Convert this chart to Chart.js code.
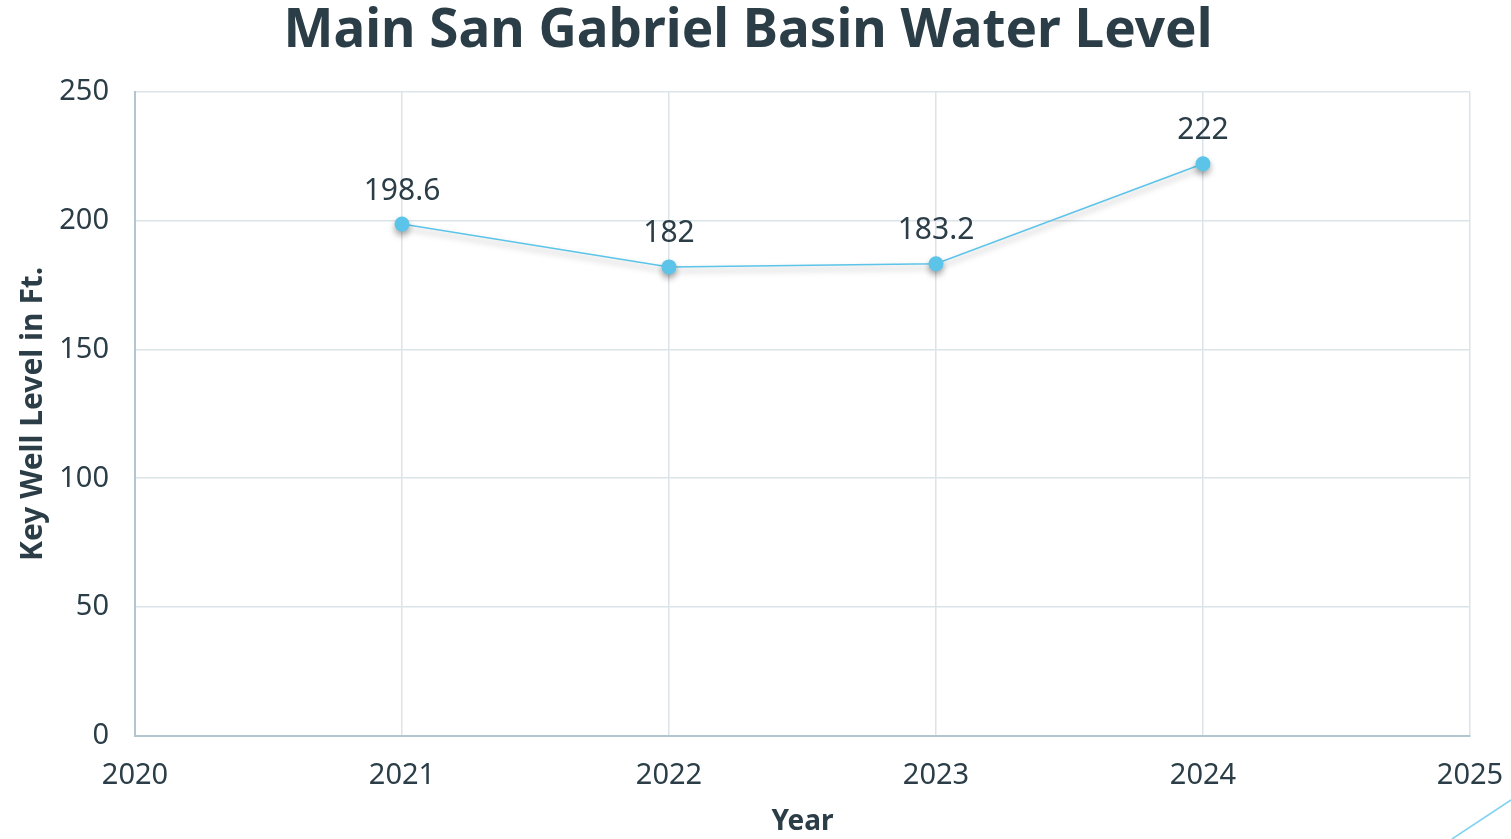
<!DOCTYPE html>
<html>
<head>
<meta charset="utf-8">
<script src="https://cdn.jsdelivr.net/npm/chart.js@4/dist/chart.umd.min.js"></script>
<style>
  html, body { margin: 0; padding: 0; background: #ffffff; overflow: hidden; }
  #chart { display: block; }
</style>
</head>
<body>
<canvas id="chart" width="1511" height="839"></canvas>
<script>
// data
const years = [2021, 2022, 2023, 2024];
const levels = [198.6, 182, 183.2, 222];
const yTicks = [0, 50, 100, 150, 200, 250];
const xTicks = [2020, 2021, 2022, 2023, 2024, 2025];

const textColor = '#2b3d47';
const lineColor = '#5bc4e8';
const fontFamily = '"Noto Sans", "Open Sans", sans-serif';

// soft shadow under the line and points
const shadowPlugin = {
  id: 'lineShadow',
  beforeDatasetDraw: (chart) => {
    const ctx = chart.ctx;
    ctx.save();
    ctx.shadowColor = 'rgba(0,0,0,0.35)';
    ctx.shadowBlur = 6;
    ctx.shadowOffsetX = 0;
    ctx.shadowOffsetY = 4;
  },
  afterDatasetDraw: (chart) => {
    chart.ctx.restore();
  }
};

// value labels above each point
const labelPlugin = {
  id: 'valueLabels',
  afterDatasetsDraw: (chart) => {
    const ctx = chart.ctx;
    const meta = chart.getDatasetMeta(0);
    ctx.save();
    ctx.font = '30px ' + fontFamily;
    ctx.fillStyle = textColor;
    ctx.textAlign = 'center';
    ctx.textBaseline = 'bottom';
    meta.data.forEach((pt, i) => {
      ctx.fillText(String(levels[i]), pt.x, pt.y - 18);
    });
    ctx.restore();
  }
};

// thin decorative stroke in the bottom-right corner
const cornerPlugin = {
  id: 'cornerStroke',
  afterDraw: (chart) => {
    const ctx = chart.ctx;
    ctx.save();
    ctx.strokeStyle = '#7fd3f0';
    ctx.lineWidth = 1.5;
    ctx.beginPath();
    ctx.moveTo(1452, 839);
    ctx.lineTo(1511, 800);
    ctx.stroke();
    ctx.restore();
  }
};

const data = {
  datasets: [{
    label: 'Key Well Level',
    data: years.map((y, i) => ({ x: y, y: levels[i] })),
    borderColor: lineColor,
    backgroundColor: lineColor,
    borderWidth: 1.5,
    pointRadius: 7.5,
    pointBorderWidth: 0,
    pointBackgroundColor: lineColor,
    tension: 0
  }]
};

const config = {
  type: 'line',
  data: data,
  options: {
    responsive: false,
    animation: false,
    layout: { padding: { top: 0, right: 41, bottom: 0, left: 26 } },
    plugins: {
      legend: { display: false },
      tooltip: { enabled: false },
      title: {
        display: true,
        text: 'Main San Gabriel Basin Water Level',
        color: textColor,
        font: { family: fontFamily, size: 53, weight: 'bold' },
        padding: { top: 0, bottom: 28 }
      }
    },
    scales: {
      x: {
        type: 'linear',
        min: xTicks[0],
        max: xTicks[xTicks.length - 1],
        afterBuildTicks: (axis) => { axis.ticks = xTicks.map(v => ({ value: v })); },
        afterFit: (axis) => {
          axis.height = 103;
          axis.paddingRight = 0; // let the 2025 label hang into the margin
        },
        ticks: {
          color: textColor,
          font: { family: fontFamily, size: 29 },
          padding: 22,
          maxRotation: 0,
          callback: (v) => String(v)
        },
        grid: { color: '#dbe4e8', lineWidth: 1.5, drawTicks: false },
        border: { color: '#b3c6d0', width: 2 },
        title: {
          display: true,
          text: 'Year',
          color: textColor,
          font: { family: fontFamily, size: 28, weight: 'bold' },
          padding: { top: 0, bottom: 0 }
        }
      },
      y: {
        min: yTicks[0],
        max: yTicks[yTicks.length - 1],
        afterBuildTicks: (axis) => { axis.ticks = yTicks.map(v => ({ value: v })); },
        afterFit: (axis) => { axis.width = 109; },
        ticks: {
          color: textColor,
          font: { family: fontFamily, size: 29 },
          padding: 26
        },
        grid: { color: '#dbe4e8', lineWidth: 1.5, drawTicks: false },
        border: { color: '#b3c6d0', width: 2 },
        title: {
          display: true,
          text: 'Key Well Level in Ft.',
          color: textColor,
          font: { family: fontFamily, size: 30, weight: 'bold' },
          padding: { top: -11, bottom: 12 }
        }
      }
    }
  },
  plugins: [shadowPlugin, labelPlugin, cornerPlugin]
};

const currentChart = new Chart(document.getElementById('chart'), config);
</script>
</body>
</html>
